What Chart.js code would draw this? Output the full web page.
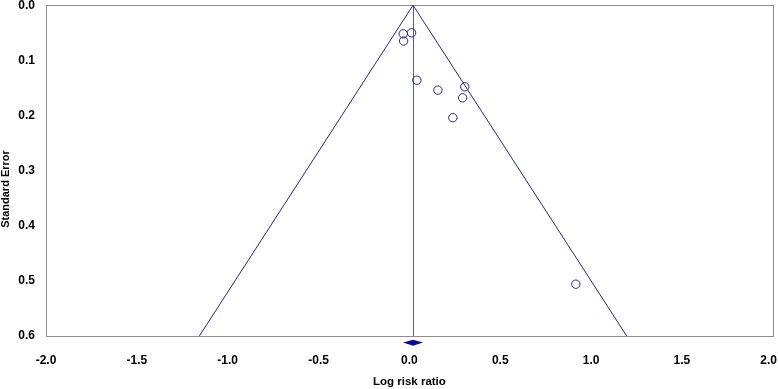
<!DOCTYPE html>
<html lang="en">
<head>
<meta charset="UTF-8">
<title>Funnel plot</title>
<script src="https://cdn.jsdelivr.net/npm/chart.js"></script>
<style>
  html, body { margin: 0; padding: 0; background: #fff; }
  #wrap { width: 778px; height: 389px; }
</style>
</head>
<body>
<div id="wrap"><canvas id="funnel" width="778" height="389"></canvas></div>
<script>
// study estimates (log risk ratio, standard error)
const logRR = [-0.034, 0.012, -0.032, 0.041, 0.157, 0.305, 0.293, 0.239, 0.916];
const stdErr = [0.052, 0.050, 0.065, 0.136, 0.154, 0.148, 0.168, 0.204, 0.506];

// pooled estimate and its confidence interval (diamond)
const pooled = 0.02;
const pooledLow = -0.035;
const pooledHigh = 0.075;

const xTicks = [-2.0, -1.5, -1.0, -0.5, 0.0, 0.5, 1.0, 1.5, 2.0];
const yTicks = [0.0, 0.1, 0.2, 0.3, 0.4, 0.5, 0.6];
const seMax = 0.6;

const navy = '#26267e';

// funnel limits: pooled +/- 1.96 * SE
const funnel = [
    { x: pooled - 1.96 * seMax, y: seMax },
    { x: pooled, y: 0 },
    { x: pooled + 1.96 * seMax, y: seMax }
];

// diamond below the axis (y in SE units, outside the 0-0.6 range)
const diamond = [
    { x: pooledLow, y: 0.612 },
    { x: pooled, y: 0.6068 },
    { x: pooledHigh, y: 0.612 },
    { x: pooled, y: 0.6175 }
];

const pontos = logRR.map(function (v, i) { return { x: v, y: stdErr[i] }; });

// moldura cinza, linha do efeito combinado, diamante, rotulos do eixo x e titulo do eixo y
const extras = {
    id: 'extras',
    beforeDatasetsDraw(chart) {
        const a = chart.chartArea;
        const ctx = chart.ctx;
        const sx = chart.scales.x;
        const sy = chart.scales.y;
        ctx.save();
        ctx.strokeStyle = '#8c8c8c';
        ctx.lineWidth = 1;
        ctx.strokeRect(Math.round(a.left) + 0.5, Math.round(a.top) + 0.5,
            Math.round(a.right - a.left), Math.round(a.bottom - a.top));

        const vx = Math.round(sx.getPixelForValue(pooled)) + 0.5;
        ctx.strokeStyle = '#5a5a92';
        ctx.beginPath();
        ctx.moveTo(vx, sy.getPixelForValue(0));
        ctx.lineTo(vx, sy.getPixelForValue(seMax));
        ctx.stroke();
        ctx.restore();
    },
    afterDraw(chart) {
        const ctx = chart.ctx;
        const sx = chart.scales.x;
        const sy = chart.scales.y;
        ctx.save();
        ctx.fillStyle = '#0a0a9a';
        ctx.beginPath();
        diamond.forEach(function (p, i) {
            const px = sx.getPixelForValue(p.x);
            const py = sy.getPixelForValue(p.y);
            if (i === 0) ctx.moveTo(px, py); else ctx.lineTo(px, py);
        });
        ctx.closePath();
        ctx.fill();

        // rotulos do eixo x (o ultimo fica dentro do canvas)
        ctx.fillStyle = '#000';
        ctx.font = 'bold 12px "Liberation Sans"';
        ctx.textAlign = 'center';
        ctx.textBaseline = 'middle';
        xTicks.forEach(function (v) {
            const label = v.toFixed(1);
            let px = sx.getPixelForValue(v);
            const half = ctx.measureText(label).width / 2;
            if (px + half > chart.width - 1) px = chart.width - 1 - half;
            ctx.fillText(label, px, 361);
        });

        ctx.translate(6, 189);
        ctx.rotate(-Math.PI / 2);
        ctx.font = 'bold 11px "Liberation Sans"';
        ctx.fillText('Standard Error', 0, 0);
        ctx.restore();
    }
};

const tickFont = { family: 'Liberation Sans', size: 12, weight: 'bold' };

new Chart(document.getElementById('funnel'), {
    type: 'scatter',
    data: {
        datasets: [
            {
                type: 'line',
                data: funnel,
                borderColor: navy,
                borderWidth: 1,
                pointRadius: 0,
                fill: false,
                tension: 0
            },
            {
                data: pontos,
                pointStyle: 'circle',
                pointRadius: 4.2,
                borderColor: navy,
                borderWidth: 1,
                backgroundColor: 'rgba(255,255,255,0)'
            }
        ]
    },
    options: {
        responsive: false,
        animation: false,
        layout: { padding: { top: 3, right: 5, left: 0, bottom: 0 } },
        plugins: {
            legend: { display: false },
            tooltip: { enabled: false }
        },
        scales: {
            x: {
                type: 'linear',
                min: -2,
                max: 2,
                afterBuildTicks(axis) { axis.ticks = xTicks.map(v => ({ value: v })); },
                afterFit(axis) {
                    axis.height = 53;
                    axis.paddingLeft = 0;
                    axis.paddingRight = 0;
                },
                grid: { display: false, drawTicks: true, tickLength: 4, color: '#8c8c8c' },
                border: { display: true, color: '#8c8c8c' },
                ticks: {
                    color: 'rgba(0,0,0,0)',
                    font: tickFont,
                    padding: 15,
                    maxRotation: 0,
                    callback: v => v.toFixed(1)
                },
                title: {
                    display: true,
                    text: 'Log risk ratio',
                    color: '#000',
                    font: { family: 'Liberation Sans', size: 11.5, weight: 'bold' },
                    padding: { top: 11, bottom: 0 }
                }
            },
            y: {
                type: 'linear',
                reverse: true,
                min: 0,
                max: seMax,
                afterBuildTicks(axis) { axis.ticks = yTicks.map(v => ({ value: v })); },
                afterFit(axis) {
                    axis.width = 46;
                    axis.paddingTop = 0;
                    axis.paddingBottom = 0;
                },
                grid: { display: false, drawTicks: true, tickLength: 4, color: '#8c8c8c' },
                border: { display: true, color: '#8c8c8c' },
                ticks: {
                    color: '#000',
                    font: tickFont,
                    padding: 7,
                    callback: v => v.toFixed(1)
                },
                title: { display: false }
            }
        }
    },
    plugins: [extras]
});
</script>
</body>
</html>
